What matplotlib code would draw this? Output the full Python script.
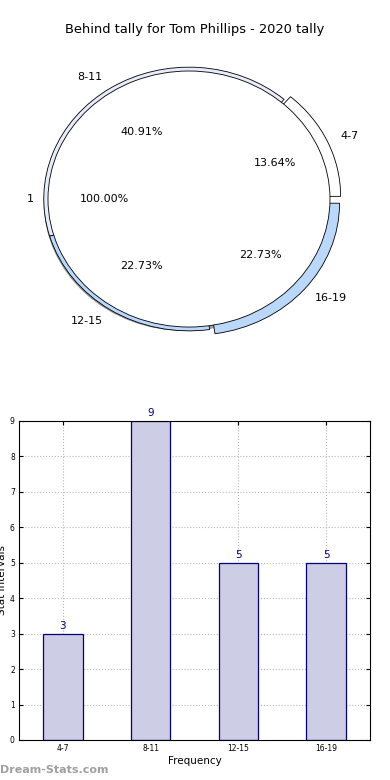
import numpy as np
import matplotlib
matplotlib.use('Agg')
from matplotlib import pyplot as plt

#-----------------------------------
# Data
title = 'Behind tally for Tom Phillips - 2020 tally'
intervals = ['4-7', '8-11', '12-15', '16-19']
counts = [3, 9, 5, 5]
ring_colors = ['#ffffff', '#e6ecfa', '#b9d8fb', '#b9d8fb']
inner_labels = ['1']
inner_counts = [1]

#-----------------------------------
fig = plt.figure(figsize=(3.9, 7.8), dpi=100)
fig.text(0.5, 1 - 30 / 780., title, ha='center', va='center', fontsize=9.4)

# Pie part, aspect left free so the circle is a bit squashed
ax1 = fig.add_axes([0.0146, 0.5315, 0.94, 0.4267])
ax1.pie(counts, labels=intervals, colors=ring_colors, radius=1.03,
        explode=[0.05, 0.0, 0.0, 0.05], startangle=0, counterclock=True,
        autopct='%1.2f%%', pctdistance=0.6, labeldistance=1.1,
        wedgeprops={'linewidth': 0.6, 'edgecolor': 'black'},
        textprops={'fontsize': 8})
ax1.pie(inner_counts, labels=inner_labels, colors=['white'], radius=1.0,
        startangle=0, shadow=True, autopct='%1.2f%%', pctdistance=0.6,
        labeldistance=1.1,
        wedgeprops={'linewidth': 0.6, 'edgecolor': 'black'},
        textprops={'fontsize': 8})
ax1.set_aspect('auto')
ax1.set_xlim(-1.3, 1.3)
ax1.set_ylim(-1.3, 1.3)
ax1.axis('off')

# Bar part
ax2 = fig.add_axes([0.0487, 0.0513, 0.9, 0.409])
x = np.arange(len(intervals))
bars = ax2.bar(x, counts, width=0.45, color='#cdcde6', edgecolor='navy',
               linewidth=0.9, zorder=2)
for xi, c in zip(x, counts):
    ax2.text(xi, c + 0.08, str(c), ha='center', va='bottom', color='navy',
             fontsize=7.5, clip_on=False)
ax2.set_xlim(-0.5, 3.5)
ax2.set_ylim(0, 9)
ax2.set_xticks(x)
ax2.set_xticklabels(intervals)
ax2.set_yticks(range(10))
ax2.tick_params(direction='in', labelsize=5.5, length=3, top=True,
                right=True, pad=3)
ax2.grid(True, linestyle=':', color='#b8b8b8', linewidth=0.8, zorder=0)
ax2.set_axisbelow(True)
ax2.set_xlabel('Frequency', fontsize=7.5, labelpad=2)
ax2.set_ylabel('Stat intervals', fontsize=7.5, labelpad=2)

fig.text(0.0, 1 - 770 / 780., 'Dream-Stats.com', color='#a0a0a0',
         fontsize=8, fontweight='bold', ha='left', va='center')

plt.savefig('out.png', dpi=100)
